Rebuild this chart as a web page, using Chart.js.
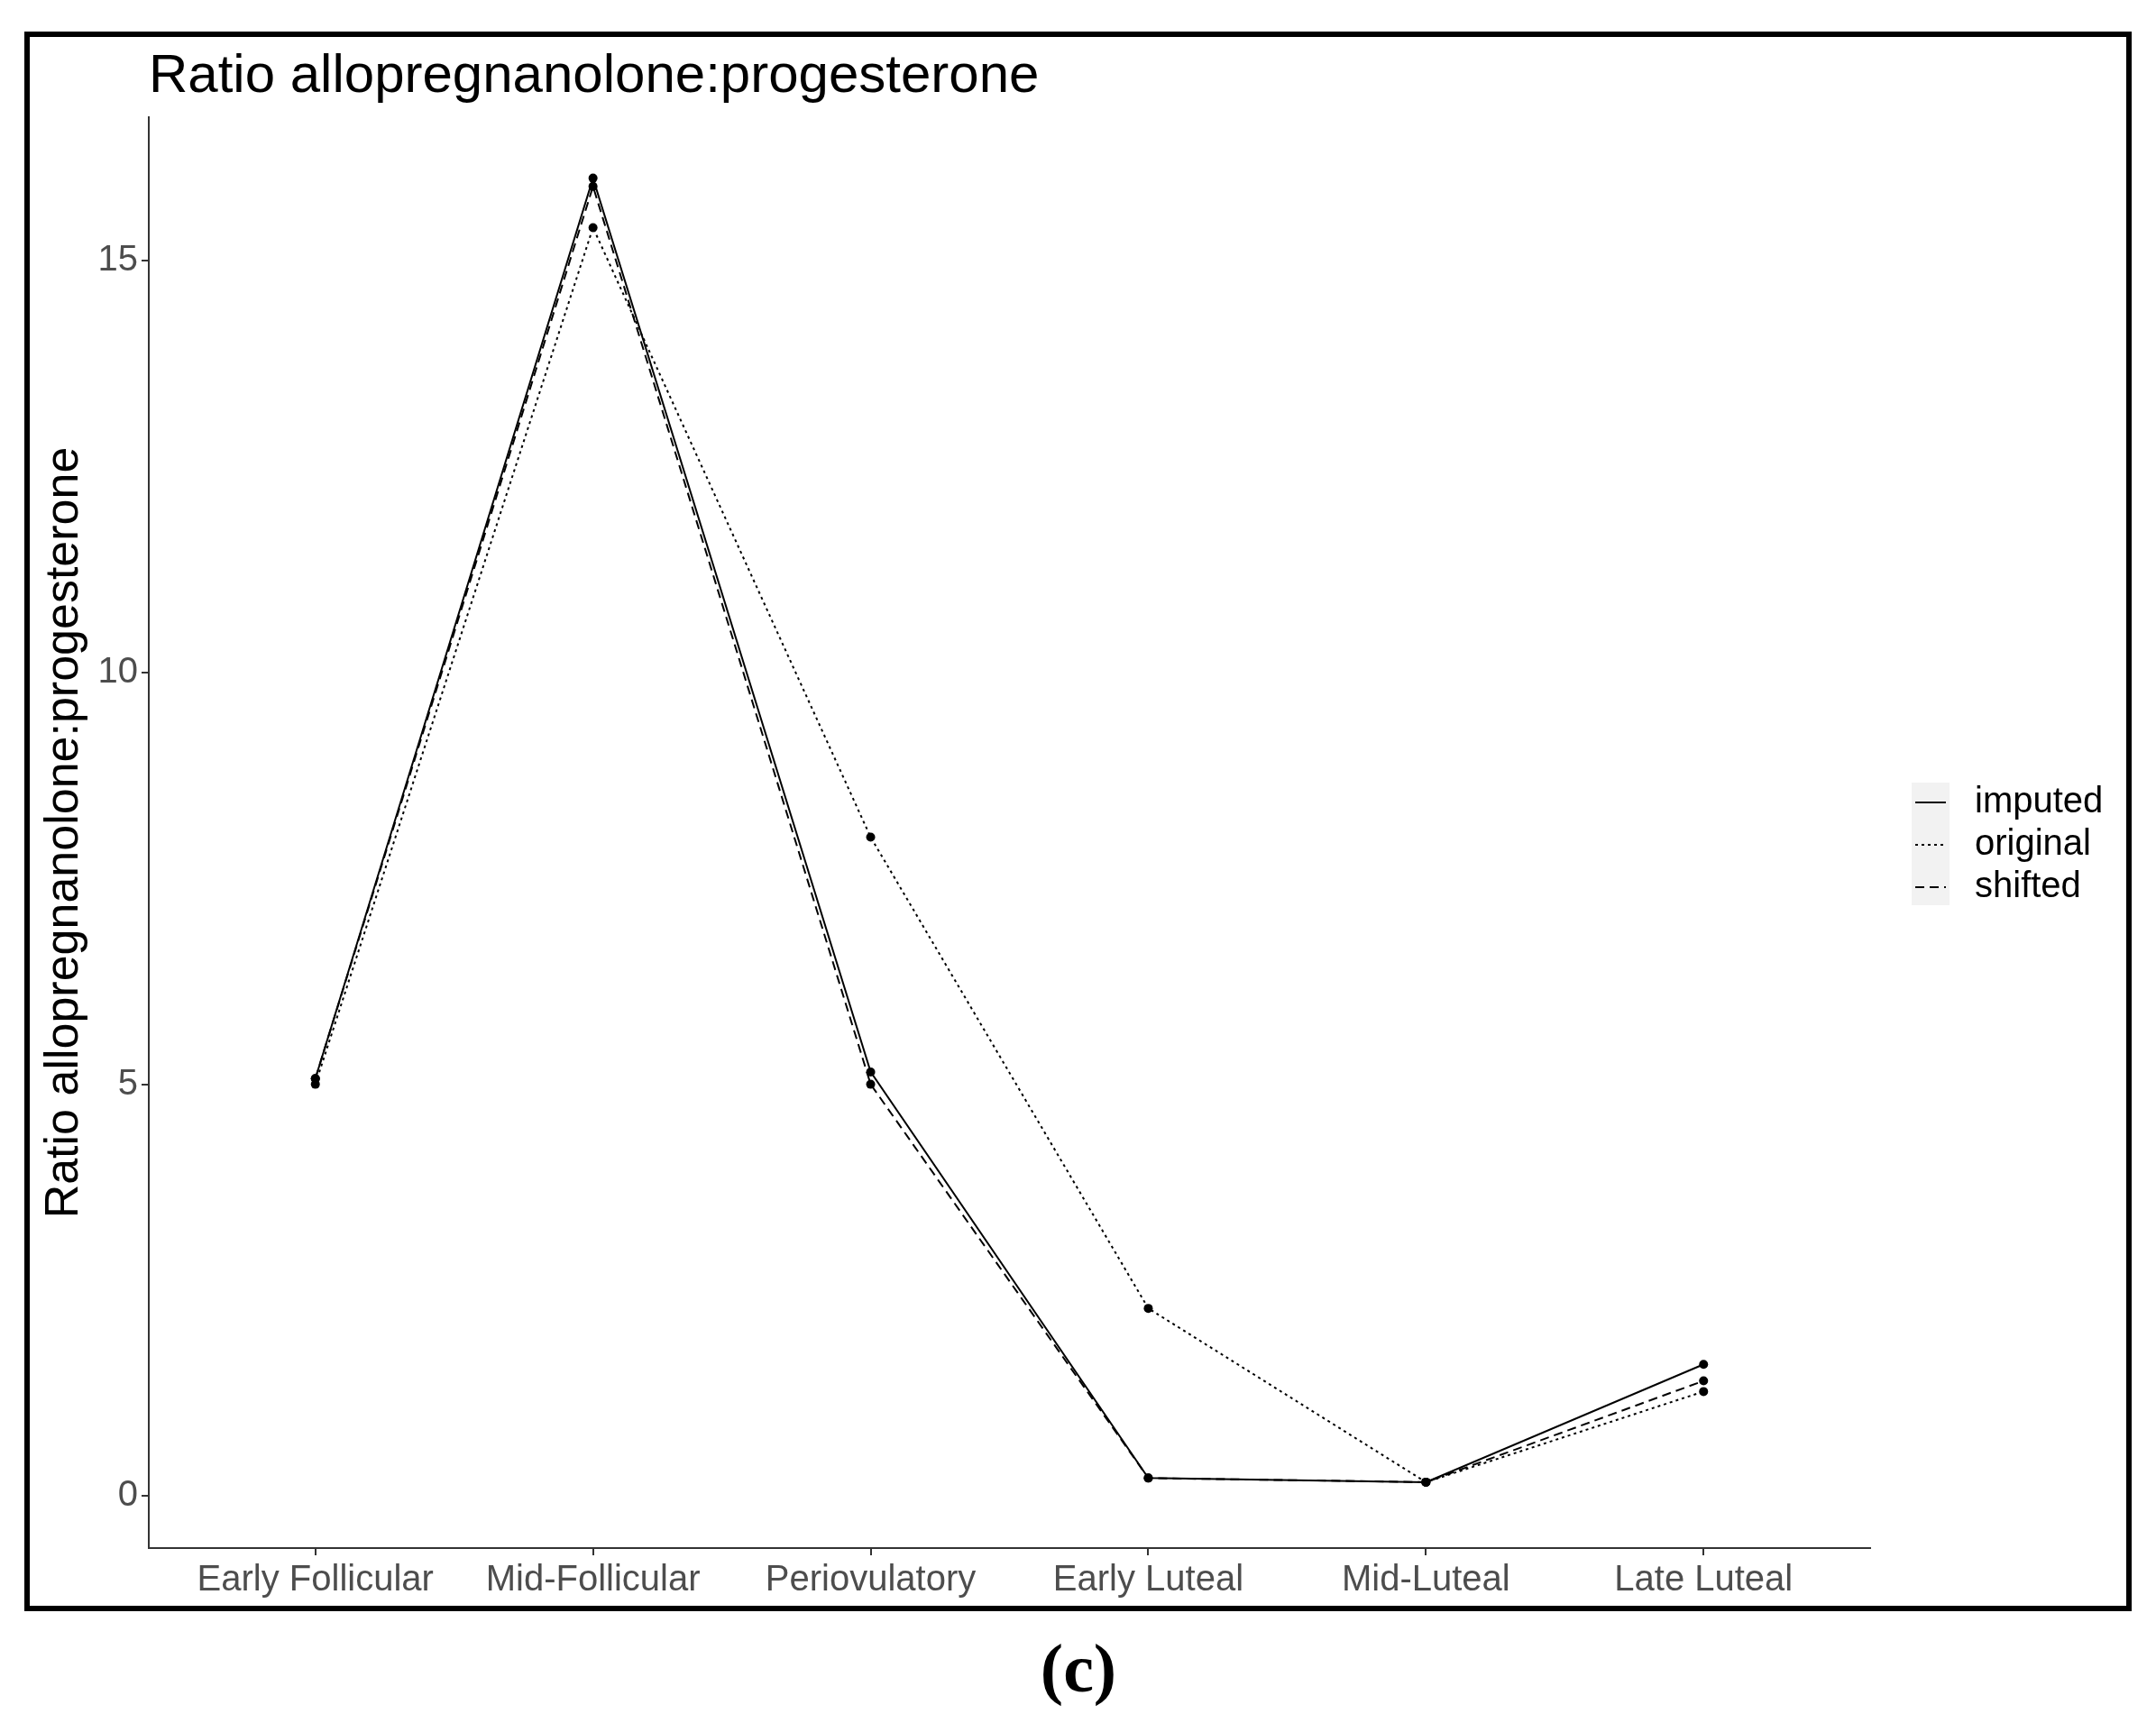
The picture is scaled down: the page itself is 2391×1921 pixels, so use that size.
<!DOCTYPE html>
<html><head><meta charset="utf-8">
<script src="https://cdn.jsdelivr.net/npm/chart.js@4"></script>
<style>html,body{margin:0;padding:0;background:#fff}canvas{display:block}</style>
</head><body>
<div style="width:2391px;height:1921px"><canvas id="c"></canvas></div>
<script>
const phases = ['Early Follicular','Mid-Follicular','Periovulatory','Early Luteal','Mid-Luteal','Late Luteal'];
const imputed = [5.07, 16.0, 5.15, 0.22, 0.17, 1.6];
const original = [5.0, 15.4, 8.0, 2.28, 0.17, 1.27];
const shifted = [5.07, 15.9, 5.0, 0.22, 0.17, 1.4];
const yTicks = [0, 5, 10, 15];

const series = [
  {label:'imputed', data:imputed, dash:[]},
  {label:'original', data:original, dash:[3,4]},
  {label:'shifted', data:shifted, dash:[10,6]}
];

const extras = {
  id:'extras',
  afterDraw(chart){
    const c = chart.ctx;
    c.save();
    // outer frame
    c.strokeStyle = '#000'; c.lineWidth = 6;
    c.strokeRect(30, 38, 2331, 1746);
    // title
    c.fillStyle = '#000'; c.font = '60px "Liberation Sans", Arial, sans-serif';
    c.textBaseline = 'alphabetic'; c.textAlign = 'left';
    c.fillText('Ratio allopregnanolone:progesterone', 165, 102);
    // legend
    c.fillStyle = '#f2f2f2';
    c.fillRect(2120, 868, 42, 136);
    c.font = '40px "Liberation Sans", Arial, sans-serif';
    c.textBaseline = 'middle';
    series.forEach((s, i) => {
      const y = 890 + i * 47;
      c.strokeStyle = '#000'; c.lineWidth = 2; c.setLineDash(s.dash);
      c.beginPath(); c.moveTo(2124, y); c.lineTo(2158, y); c.stroke();
      c.setLineDash([]);
      c.fillStyle = '#000';
      c.fillText(s.label, 2190, y);
    });
    // panel label
    c.font = 'bold 76px "Liberation Serif", "DejaVu Serif", serif';
    c.textAlign = 'center';
    c.fillText('(c)', 1196, 1856);
    c.restore();
  }
};

new Chart(document.getElementById('c'), {
  type: 'line',
  data: {
    datasets: series.map(s => ({
      label: s.label,
      data: s.data.map((v, i) => ({x: i, y: v})),
      borderColor: '#000', backgroundColor: '#000',
      borderWidth: 2, borderDash: s.dash,
      pointRadius: 5, pointBorderWidth: 0, tension: 0
    }))
  },
  options: {
    responsive: true, maintainAspectRatio: false, animation: false,
    devicePixelRatio: 1,
    layout: {padding: {left: 40, top: 130, right: 317, bottom: 124}},
    plugins: {legend: {display: false}, tooltip: {enabled: false}},
    scales: {
      x: {
        type: 'linear', min: -0.6, max: 5.6,
        afterBuildTicks: s => { s.ticks = phases.map((p, i) => ({value: i})); },
        afterFit: s => { s.height = 80; },
        ticks: {callback: v => phases[v], color: '#4d4d4d', font: {size: 40, family: '"Liberation Sans", Arial, sans-serif'}, padding: 4, maxRotation: 0, autoSkip: false},
        grid: {drawOnChartArea: false, drawTicks: true, tickLength: 8, color: '#333', lineWidth: 2},
        border: {display: true, color: '#333', width: 2}
      },
      y: {
        min: -0.63, max: 16.74,
        afterBuildTicks: s => { s.ticks = yTicks.map(v => ({value: v})); },
        afterFit: s => { s.width = 125; },
        title: {display: true, text: 'Ratio allopregnanolone:progesterone', color: '#000', font: {size: 52, family: '"Liberation Sans", Arial, sans-serif'}, padding: 0},
        ticks: {color: '#4d4d4d', font: {size: 40, family: '"Liberation Sans", Arial, sans-serif'}, padding: 4},
        grid: {drawOnChartArea: false, drawTicks: true, tickLength: 8, color: '#333', lineWidth: 2},
        border: {display: true, color: '#333', width: 2}
      }
    }
  },
  plugins: [extras]
});
</script>
</body></html>
